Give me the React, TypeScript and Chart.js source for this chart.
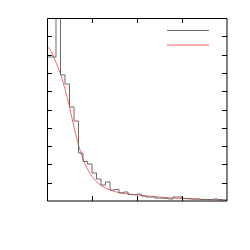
import React, { useEffect, useRef } from "react";
import { Chart, registerables } from "chart.js";

Chart.register(...registerables);

// Histogram: bin left edges (x) and counts (y)
const binWidth = 0.1;
const histValues = [
  7.87, 7.87, 12.0, 6.89, 6.39, 5.14, 4.37, 2.62, 2.16, 2.02,
  1.53, 1.2, 0.87, 1.04, 0.6, 0.63, 0.44, 0.49, 0.36, 0.34,
  0.38, 0.27, 0.22, 0.22, 0.16, 0.16, 0.14, 0.11, 0.22, 0.22,
  0.14, 0.14, 0.11, 0.11, 0.08, 0.08, 0.08, 0.11, 0.08, 0.05,
];
// Fitted curve sample points
const curveX = [0, 0.05, 0.1, 0.155, 0.2, 0.25, 0.3, 0.4, 0.5, 0.6, 0.7, 0.8, 0.9, 1.0, 1.2, 1.4, 1.6, 1.8, 2.0, 2.4, 2.8, 3.2, 3.6, 4.0];
const curveY = [8.43, 8.33, 8.14, 7.81, 7.57, 7.27, 6.94, 6.12, 5.14, 4.04, 3.06, 2.3, 1.75, 1.34, 0.85, 0.6, 0.46, 0.38, 0.33, 0.23, 0.16, 0.11, 0.08, 0.05];
const xTicks = [1, 2, 3];
const yTicks = [1, 2, 3, 4, 5, 6, 7, 8, 9];

const redColor = "rgba(255,0,0,0.6)";
const grayColor = "#6a6a6a";

const framePlugin = {
  id: "frame",
  afterDatasetsDraw(chart: any) {
    const { ctx, chartArea: a, scales } = chart;
    const xs = scales.x;
    const ys = scales.y;
    ctx.save();
    ctx.strokeStyle = "#000";
    ctx.lineWidth = 1;
    ctx.beginPath();
    // frame
    ctx.moveTo(a.left + 0.5, a.bottom);
    ctx.lineTo(a.left + 0.5, a.top + 0.5);
    ctx.lineTo(a.right, a.top + 0.5);
    ctx.lineTo(a.right, a.bottom);
    ctx.lineTo(a.left + 0.5, a.bottom);
    const tl = 5;
    xTicks.forEach((t) => {
      const px = Math.round(xs.getPixelForValue(t)) + 0.5;
      ctx.moveTo(px, a.bottom);
      ctx.lineTo(px, a.bottom - tl);
      ctx.moveTo(px, a.top);
      ctx.lineTo(px, a.top + tl);
    });
    yTicks.forEach((t) => {
      const py = Math.round(ys.getPixelForValue(t)) + 0.5;
      ctx.moveTo(a.left, py);
      ctx.lineTo(a.left + tl, py);
      ctx.moveTo(a.right, py);
      ctx.lineTo(a.right - tl, py);
    });
    ctx.stroke();
    // legend samples
    ctx.lineWidth = 1;
    ctx.strokeStyle = grayColor;
    ctx.beginPath();
    ctx.moveTo(a.left + 120, a.top + 12.5);
    ctx.lineTo(a.left + 162, a.top + 12.5);
    ctx.stroke();
    ctx.strokeStyle = redColor;
    ctx.beginPath();
    ctx.moveTo(a.left + 120, a.top + 27);
    ctx.lineTo(a.left + 162, a.top + 27);
    ctx.stroke();
    ctx.restore();
  },
};

export default function App() {
  const ref = useRef<HTMLCanvasElement>(null);
  useEffect(() => {
    const histData = histValues.map((v, i) => ({ x: +(i * binWidth).toFixed(2), y: v }));
    histData.push({ x: histValues.length * binWidth, y: histValues[histValues.length - 1] });
    const curveData = curveX.map((x, i) => ({ x, y: curveY[i] }));
    const chart = new Chart(ref.current!, {
      type: "line",
      data: {
        datasets: [
          {
            data: histData,
            borderColor: grayColor,
            borderWidth: 1,
            pointRadius: 0,
            stepped: "before",
            fill: false,
          },
          {
            data: curveData,
            borderColor: redColor,
            borderWidth: 1,
            pointRadius: 0,
            cubicInterpolationMode: "monotone",
            fill: false,
          },
        ],
      },
      options: {
        animation: false,
        responsive: false,
        layout: { padding: { left: 47, top: 18, right: 23, bottom: 49 } },
        plugins: { legend: { display: false }, tooltip: { enabled: false } },
        scales: {
          x: { type: "linear", min: 0, max: 4, display: false },
          y: { type: "linear", min: 0, max: 10, display: false },
        },
      },
      plugins: [framePlugin],
    });
    return () => chart.destroy();
  }, []);
  return (
    <div style={{ position: "absolute", left: 0, top: 0, width: 250, height: 250, background: "#fff" }}>
      <canvas ref={ref} width={250} height={250} />
    </div>
  );
}
